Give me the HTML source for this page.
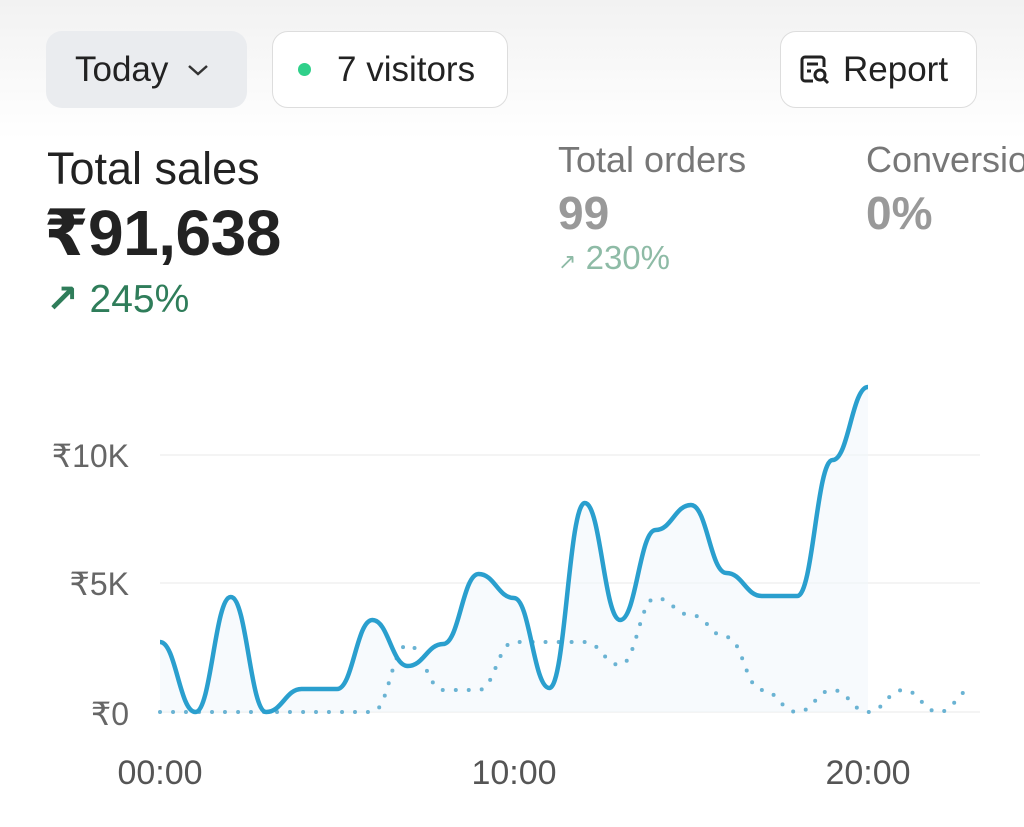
<!DOCTYPE html>
<html><head><meta charset="utf-8"><style>
body{margin:0;width:1024px;height:827px;overflow:hidden;background:#fff;font-family:"Liberation Sans","DejaVu Sans",sans-serif;position:relative}
.bg{position:absolute;left:0;top:0;width:1024px;height:140px;background:linear-gradient(#f2f2f2,#fff)}
.btn{position:absolute;top:31px;height:77px;box-sizing:border-box;border-radius:16px;font-size:35px;color:#222;display:flex;align-items:center}
.t{position:absolute;white-space:nowrap}
</style></head><body>
<div class="bg"></div>
<div class="btn" style="left:46px;width:201px;background:#eaecef;padding-left:29px">Today <svg width="24" height="14" viewBox="0 0 24 14" style="margin-left:18px"><path d="M3 3l9 8 9-8" fill="none" stroke="#333" stroke-width="2.5"/></svg></div>
<div class="btn" style="left:272px;width:236px;border:1.5px solid #ddd;background:#fff;padding-left:25px"><span style="width:13px;height:13px;border-radius:50%;background:#2fd08a;display:inline-block;margin-right:26px"></span>7 visitors</div>
<div class="btn" style="left:780px;width:197px;border:1.5px solid #ddd;background:#fff;padding-left:18px">
<svg width="32" height="34" viewBox="0 0 32 34" style="margin-right:12px"><path d="M14 28H6a3 3 0 0 1-3-3V7a3 3 0 0 1 3-3h16a3 3 0 0 1 3 3v7" fill="none" stroke="#222" stroke-width="3"/><line x1="8" y1="11" x2="19" y2="11" stroke="#222" stroke-width="3"/><line x1="8" y1="18" x2="12" y2="18" stroke="#222" stroke-width="3"/><circle cx="21" cy="22" r="5" fill="none" stroke="#222" stroke-width="3"/><line x1="25" y1="26" x2="29" y2="30" stroke="#222" stroke-width="3"/></svg>Report</div>
<div class="t" style="left:47px;top:143px;font-size:45px;color:#222">Total sales</div>
<div class="t" style="left:44px;top:196px;font-size:64px;font-weight:bold;color:#222;letter-spacing:-0.5px">₹91,638</div>
<div class="t" style="left:46px;top:277px;font-size:39px;color:#2f7d5a"><b>&#8599;</b> 245%</div>
<div class="t" style="left:558px;top:139px;font-size:36px;color:#777">Total orders</div>
<div class="t" style="left:558px;top:186px;font-size:46px;font-weight:bold;color:#999">99</div>
<div class="t" style="left:558px;top:239px;font-size:33px;color:#8ebba6"><span style="font-size:22px">&#8599;</span> 230%</div>
<div class="t" style="left:866px;top:139px;font-size:36px;color:#777">Conversion</div>
<div class="t" style="left:866px;top:186px;font-size:46px;font-weight:bold;color:#999">0%</div>
<svg width="1024" height="827" style="position:absolute;left:0;top:0">
<g stroke="#f0f0f0" stroke-width="1.5"><line x1="160" y1="455" x2="980" y2="455"/><line x1="160" y1="583" x2="980" y2="583"/><line x1="160" y1="712" x2="980" y2="712"/></g>
<g font-size="32" fill="#666" text-anchor="end"><text x="129" y="467">₹10K</text><text x="129" y="595">₹5K</text><text x="129" y="725">₹0</text></g>
<g font-size="34" fill="#555" text-anchor="middle"><text x="160" y="784">00:00</text><text x="514" y="784">10:00</text><text x="868" y="784">20:00</text></g>
<path id="fillp" fill="#f2f6fb" opacity="0.6" d=""/>
<path id="dot" fill="none" stroke="#6ab3d3" stroke-width="4" stroke-linecap="round" stroke-dasharray="0 13" d=""/>
<path id="sol" fill="none" stroke="#2a9fce" stroke-width="4.5" d=""/>
</svg>
<script>
function P(ys){var s="",dx=35.4,x0=160;for(var i=0;i<ys.length;i++){var x=x0+i*dx;if(i==0)s="M"+x+" "+ys[0];else{var px=x-dx;s+=" C"+(px+dx*0.45)+" "+ys[i-1]+" "+(x-dx*0.45)+" "+ys[i]+" "+x+" "+ys[i];}}return s;}
var sol=[642,712,597,712,689,689,620,666,644,574,598,688,503,620,530,505,573,596,596,460,387];
var dot=[712,712,712,712,712,712,712,645,690,690,642,642,642,665,598,615,637,690,712,690,712,690,712,688];
var s=P(sol);
document.getElementById("sol").setAttribute("d",s);
document.getElementById("fillp").setAttribute("d",s+" L868 712 L160 712 Z");
document.getElementById("dot").setAttribute("d",P(dot));
</script>
</body></html>
